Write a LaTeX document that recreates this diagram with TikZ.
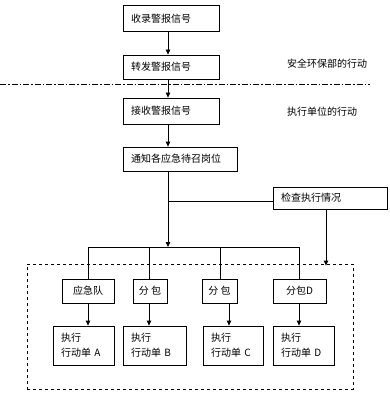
\documentclass[tikz,border=0pt]{standalone}
\usepackage{fontspec}
\setmainfont{Noto Sans CJK SC}
\usetikzlibrary{arrows.meta}
\tikzset{
  box/.style={draw, line width=0.8pt, inner xsep=8pt, inner ysep=0pt, align=left, font=\fontsize{10}{15}\selectfont},
  cbox/.style={draw, line width=0.8pt, inner sep=0pt, align=center, font=\fontsize{10}{15}\selectfont},
  lbl/.style={anchor=west, inner sep=0pt, font=\fontsize{10}{15}\selectfont},
  conn/.style={line width=0.8pt},
  arr/.style={line width=0.8pt, -{Triangle[length=5pt,width=4.5pt]}},
  grpbox/.style={draw, dashed, line width=0.8pt, inner sep=0pt},
  sep/.style={line width=0.8pt, dash pattern=on 6pt off 2pt on 1.5pt off 2pt}
}
\begin{document}
\begin{tikzpicture}[x=1pt,y=-1pt]
\useasboundingbox (0,0) rectangle (390,396);
% top boxes
\node[box, text width=80pt, minimum height=26pt] (b1) at (171,18.5) {收录警报信号};
\node[box, text width=80pt, minimum height=24pt] (b2) at (171,67) {转发警报信号};
\node[box, text width=80pt, minimum height=26pt] (b3) at (171,111) {接收警报信号};
\node[box, text width=98pt, minimum height=24pt] (b4) at (180,159) {通知各应急待召岗位};
\node[box, text width=98pt, minimum height=22pt] (b5) at (330,198) {检查执行情况};
% side labels
\node[lbl] (l1) at (287,64) {安全环保部的行动};
\node[lbl] (l2) at (287,112) {执行单位的行动};
% separator
\coordinate (s0) at (0,84);
\coordinate (s1) at (370,84);
\draw[sep] (s0) -- (s1);
% group dashed rectangle
\node[grpbox, minimum width=326pt, minimum height=125pt] (grp) at (190,326.5) {};
% row boxes
\node[cbox, minimum width=52pt, minimum height=24pt] (r1) at (88,291) {应急队};
\node[cbox, minimum width=34pt, minimum height=24pt] (r2) at (150,291) {分\ 包};
\node[cbox, minimum width=35pt, minimum height=24pt] (r3) at (219.5,291) {分\ 包};
\node[cbox, minimum width=53pt, minimum height=24pt] (r4) at (299.5,291) {分包D};
% bottom boxes
\node[box, text width=45pt, minimum height=39pt] (e1) at (83.5,345.5) {执行\\行动单 A};
\node[box, text width=47pt, minimum height=39pt] (e2) at (154.5,345.5) {执行\\行动单 B};
\node[box, text width=44pt, minimum height=39pt] (e3) at (233,345.5) {执行\\行动单 C};
\node[box, text width=45pt, minimum height=39pt] (e4) at (303.5,345.5) {执行\\行动单 D};
% spine coordinates
\coordinate (sp) at (168,0);
\coordinate (br) at (168,201);
\coordinate (bar) at (168,247);
\coordinate (c5) at (326,0);
\coordinate (x1) at (88,0);
\coordinate (x2) at (149,0);
\coordinate (x3) at (220,0);
\coordinate (x3b) at (229,0);
\coordinate (x4) at (299,0);
% connectors
\draw[arr] (b1.south -| sp) -- (b2.north -| sp);
\draw[arr] (b2.south -| sp) -- (b3.north -| sp);
\draw[arr] (b3.south -| sp) -- (b4.north -| sp);
\draw[arr] (b4.south -| sp) -- (bar);
\draw[conn] (br) -- (b5.west |- br);
\draw[arr] (b5.south -| c5) -- ([yshift=-2pt]grp.north -| c5);
\draw[conn] (bar -| x1) -- (bar -| x4);
\draw[conn] (bar -| x1) -- (r1.north -| x1);
\draw[conn] (bar -| x2) -- (r2.north -| x2);
\draw[conn] (bar -| x3) -- (r3.north -| x3);
\draw[conn] (bar -| x4) -- (r4.north -| x4);
\draw[arr] (r1.south -| x1) -- (e1.north -| x1);
\draw[arr] (r2.south -| x2) -- (e2.north -| x2);
\draw[arr] (r3.south -| x3b) -- (e3.north -| x3b);
\draw[arr] (r4.south -| x4) -- (e4.north -| x4);
\end{tikzpicture}
\end{document}
